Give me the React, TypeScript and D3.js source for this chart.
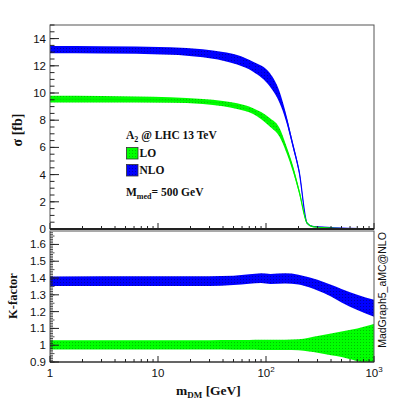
import React from "react";
import * as d3 from "d3";

// ---- data ----
const massTop = [1, 3, 13, 26, 40, 54, 76, 109, 133, 153, 177, 203, 240, 270, 300, 400, 600, 1000];
const loLow = [9.31, 9.3, 9.28, 9.19, 9.02, 8.82, 8.46, 7.52, 6.8, 5.7, 4.25, 2.6, 0.4, 0.16, 0.12, 0.07, 0.03, 0.01];
const loHigh = [9.8, 9.78, 9.68, 9.56, 9.42, 9.24, 8.88, 8.15, 7.45, 6.2, 4.7, 2.9, 0.48, 0.2, 0.14, 0.08, 0.04, 0.015];
const nloLow = [12.92, 12.9, 12.82, 12.62, 12.38, 12.1, 11.57, 10.46, 9.3, 7.95, 6.0, 4.05, 0.4, 0.17, 0.15, 0.09, 0.04, 0.01];
const nloHigh = [13.45, 13.43, 13.37, 13.22, 13.02, 12.8, 12.3, 11.45, 10.15, 8.5, 6.4, 4.35, 0.48, 0.21, 0.18, 0.1, 0.05, 0.015];

const massK = [1, 10, 30, 50, 70, 90, 110, 150, 200, 250, 300, 400, 500, 700, 1000];
const nloKLow = [1.353, 1.353, 1.352, 1.358, 1.366, 1.37, 1.365, 1.368, 1.362, 1.345, 1.325, 1.29, 1.255, 1.21, 1.17];
const nloKHigh = [1.409, 1.41, 1.411, 1.414, 1.422, 1.428, 1.424, 1.428, 1.42, 1.405, 1.39, 1.36, 1.335, 1.3, 1.27];
const loKLow = [0.974, 0.974, 0.974, 0.973, 0.973, 0.972, 0.972, 0.972, 0.97, 0.962, 0.955, 0.94, 0.93, 0.905, 0.88];
const loKHigh = [1.03, 1.03, 1.03, 1.031, 1.031, 1.032, 1.032, 1.033, 1.036, 1.045, 1.055, 1.07, 1.082, 1.1, 1.126];

const topTicks = [0, 2, 4, 6, 8, 10, 12, 14];
const kTicks = [0.9, 1.0, 1.1, 1.2, 1.3, 1.4, 1.5, 1.6];
const xTicks = [1, 10, 100, 1000];

const L = 50, R = 374;
const TT = 25, TB = 229, BT = 231, BB = 362;

export default function App() {
  const x = d3.scaleLog().domain([1, 1000]).range([L, R]);
  const yT = d3.scaleLinear().domain([0, 15]).range([TB, TT]);
  const yB = d3.scaleLinear().domain([0.9, 1.68]).range([BB, BT]);

  const band = (xs: number[], lo: number[], hi: number[], y: any) =>
    d3.area<number>()
      .x((_, i) => x(xs[i]))
      .y0((_, i) => y(lo[i]))
      .y1((_, i) => y(hi[i]))
      .curve(d3.curveMonotoneX)(xs) || "";
  const mid = (xs: number[], lo: number[], hi: number[], y: any) =>
    d3.line<number>()
      .x((_, i) => x(xs[i]))
      .y((_, i) => y((lo[i] + hi[i]) / 2))
      .curve(d3.curveMonotoneX)(xs) || "";

  const serif = "'Liberation Serif', 'Times New Roman', serif";
  const sans = "'Liberation Sans', Arial, sans-serif";
  const axisCol = "#222";

  const topMinor = d3.range(0, 15.001, 0.5);
  const kMinor = d3.range(0.9, 1.68, 0.01);
  const xMinor: number[] = [];
  for (let d = 1; d < 1000; d *= 10) for (let k = 2; k <= 9; k++) xMinor.push(d * k);

  const xTickMarks = (yb: number) => (
    <g>
      {xTicks.map((t) => (
        <line key={"M" + t} x1={x(t)} x2={x(t)} y1={yb} y2={yb - 6} stroke={axisCol} strokeWidth={1} />
      ))}
      {xMinor.map((t) => (
        <line key={"m" + t} x1={x(t)} x2={x(t)} y1={yb} y2={yb - 3} stroke={axisCol} strokeWidth={1} />
      ))}
    </g>
  );

  return (
    <svg width={415} height={399} style={{ position: "absolute", left: 0, top: 0 }}>
      <defs>
        <pattern id="pg" width={3} height={3} patternUnits="userSpaceOnUse">
          <rect width={3} height={3} fill="#00ff00" />
          <rect width={1} height={1} fill="#00c000" />
        </pattern>
        <pattern id="pb" width={3} height={3} patternUnits="userSpaceOnUse">
          <rect width={3} height={3} fill="#0000ff" />
          <rect width={1} height={1} fill="#0000a8" />
        </pattern>
        <clipPath id="ct"><rect x={L} y={TT} width={R - L} height={TB - TT} /></clipPath>
        <clipPath id="cb"><rect x={L} y={BT} width={R - L} height={BB - BT} /></clipPath>
      </defs>
      <rect width={415} height={399} fill="#fff" />

      <g clipPath="url(#ct)">
        <path d={band(massTop, nloLow, nloHigh, yT)} fill="url(#pb)" />
        <path d={mid(massTop, nloLow, nloHigh, yT)} fill="none" stroke="#0000ff" strokeWidth={1.2} />
        <path d={band(massTop, loLow, loHigh, yT)} fill="url(#pg)" />
        <path d={mid(massTop, loLow, loHigh, yT)} fill="none" stroke="#00ee00" strokeWidth={1.2} />
      </g>
      <g clipPath="url(#cb)">
        <path d={band(massK, nloKLow, nloKHigh, yB)} fill="url(#pb)" />
        <path d={band(massK, loKLow, loKHigh, yB)} fill="url(#pg)" />
      </g>

      <rect x={L} y={TT} width={R - L} height={TB - TT} fill="none" stroke="#555" strokeWidth={1} />
      <line x1={L} x2={R} y1={TB} y2={TB} stroke={axisCol} strokeWidth={2} />
      {topTicks.map((t) => (
        <g key={t}>
          <line x1={L} x2={L + 9} y1={yT(t)} y2={yT(t)} stroke={axisCol} />
          <text x={46} y={yT(t) + 4} textAnchor="end" fontFamily={sans} fontSize={11.5} fill="#111">{t}</text>
        </g>
      ))}
      {topMinor.map((t) => (
        <line key={t} x1={L} x2={L + 4.5} y1={yT(t)} y2={yT(t)} stroke={axisCol} />
      ))}
      {xTickMarks(TB)}

      <rect x={L} y={BT} width={R - L} height={BB - BT} fill="none" stroke="#555" strokeWidth={1} />
      <line x1={L} x2={R} y1={BB} y2={BB} stroke={axisCol} strokeWidth={1.2} />
      {kTicks.map((t) => (
        <g key={t}>
          <line x1={L} x2={L + 9} y1={yB(t)} y2={yB(t)} stroke={axisCol} />
          <text x={46} y={yB(t) + 4} textAnchor="end" fontFamily={sans} fontSize={11.5} fill="#111">{d3.format("~g")(t)}</text>
        </g>
      ))}
      {kMinor.map((t, i) => (
        <line key={i} x1={L} x2={L + (i % 5 === 0 ? 4.5 : 3)} y1={yB(t)} y2={yB(t)} stroke={axisCol} strokeWidth={0.8} />
      ))}
      {xTickMarks(BB)}

      {xTicks.map((t) => {
        const e = Math.round(Math.log10(t));
        return (
          <text key={t} x={x(t)} y={377} textAnchor="middle" fontFamily={sans} fontSize={11.5} fill="#111">
            {e === 0 ? "1" : e === 1 ? "10" : (
              <>
                10<tspan dy={-5} fontSize={8}>{e}</tspan>
              </>
            )}
          </text>
        );
      })}

      <text x={176} y={395} fontFamily={serif} fontWeight="bold" fontSize={13.5} fill="#111">
        m<tspan fontSize={9} dy={2.5}>DM</tspan><tspan dy={-2.5}> [GeV]</tspan>
      </text>
      <text transform="translate(22,130) rotate(-90)" textAnchor="middle" fontFamily={serif} fontWeight="bold" fontSize={14} fill="#111">
        σ [fb]
      </text>
      <text transform="translate(17,296) rotate(-90)" textAnchor="middle" fontFamily={serif} fontWeight="bold" fontSize={12.5} fill="#111">
        K-factor
      </text>
      <text transform="translate(385.5,290) rotate(-90)" textAnchor="middle" fontFamily={sans} fontSize={10.5} fill="#111">
        MadGraph5_aMC@NLO
      </text>

      <text x={126} y={139} fontFamily={serif} fontWeight="bold" fontSize={11.5} fill="#111">
        A<tspan fontSize={8} dy={2.5}>2</tspan><tspan dy={-2.5}> @ LHC 13 TeV</tspan>
      </text>
      <rect x={126.5} y={147.5} width={11.5} height={11.5} fill="url(#pg)" stroke="#333" strokeWidth={0.8} />
      <text x={139.5} y={157} fontFamily={serif} fontWeight="bold" fontSize={11.5} fill="#111">LO</text>
      <rect x={126.5} y={164.5} width={11.5} height={11.5} fill="url(#pb)" stroke="#333" strokeWidth={0.8} />
      <text x={139.5} y={174} fontFamily={serif} fontWeight="bold" fontSize={11.5} fill="#111">NLO</text>
      <text x={126} y={196} fontFamily={serif} fontWeight="bold" fontSize={11.5} fill="#111">
        M<tspan fontSize={8} dy={2.5}>med</tspan><tspan dy={-2.5}>= 500 GeV</tspan>
      </text>
    </svg>
  );
}
